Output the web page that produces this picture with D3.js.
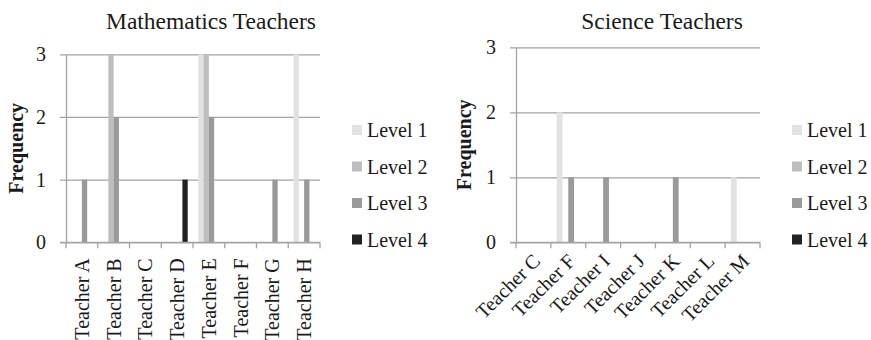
<!DOCTYPE html>
<html>
<head>
<meta charset="utf-8">
<script src="https://cdn.jsdelivr.net/npm/d3@7"></script>
<style>
  html, body { margin: 0; padding: 0; background: #fff; }
  svg { display: block; }
  text { font-family: "Liberation Serif", "Times New Roman", serif; fill: #1a1a1a; }
</style>
</head>
<body>
<svg id="chart" width="871" height="340"></svg>
<script>
// ---- data ----
const levels = ["Level 1", "Level 2", "Level 3", "Level 4"];
const levelColors = ["#e2e2e2", "#bebebe", "#9a9a9a", "#222222"];
const yTicks = [0, 1, 2, 3];

const mathTitle = "Mathematics Teachers";
const mathCategories = ["Teacher A", "Teacher B", "Teacher C", "Teacher D", "Teacher E", "Teacher F", "Teacher G", "Teacher H"];
const mathLevel1 = [0, 0, 0, 0, 3, 0, 0, 3];
const mathLevel2 = [0, 3, 0, 0, 3, 0, 0, 0];
const mathLevel3 = [1, 2, 0, 0, 2, 0, 1, 1];
const mathLevel4 = [0, 0, 0, 1, 0, 0, 0, 0];

const sciTitle = "Science Teachers";
const sciCategories = ["Teacher C", "Teacher F", "Teacher I", "Teacher J", "Teacher K", "Teacher L", "Teacher M"];
const sciLevel1 = [0, 2, 0, 0, 0, 0, 1];
const sciLevel2 = [0, 0, 0, 0, 0, 0, 0];
const sciLevel3 = [0, 1, 1, 0, 1, 0, 0];
const sciLevel4 = [0, 0, 0, 0, 0, 0, 0];

const svg = d3.select("#chart");
const gridColor = "#a3a3a3";
const serif = '"Liberation Serif", "Times New Roman", serif';

function drawChart(cfg) {
  const { title, categories, series, left, right, top, bottom, titleX, legendX, labelMode, yLabelX } = cfg;
  const g = svg.append("g");
  const x0 = d3.scaleBand().domain(categories).range([left, right]).paddingInner(0).paddingOuter(0);
  const x1 = d3.scaleBand().domain(levels).range([0, x0.bandwidth()]).paddingInner(0).paddingOuter(1);
  const y = d3.scaleLinear().domain([0, 3]).range([bottom, top]);

  // gridlines + y axis
  const yAxis = d3.axisLeft(y).tickValues(yTicks).tickFormat(d3.format("d"))
    .tickSizeInner(-(right - left)).tickSizeOuter(0).tickPadding(20);
  const ya = g.append("g").attr("transform", `translate(${left},0)`).call(yAxis)
    .attr("font-family", serif);
  ya.select(".domain").attr("stroke", gridColor).attr("stroke-width", 1.3);
  ya.selectAll(".tick line").attr("stroke", gridColor).attr("stroke-width", 1.3).attr("x1", -6);
  ya.selectAll(".tick text").style("font-size", "20px").attr("fill", "#1a1a1a")
    .style("font-family", serif);

  // bars
  series.forEach((vals, si) => {
    g.append("g").selectAll("rect")
      .data(categories.map((c, i) => ({ c, v: vals[i] })).filter(d => d.v > 0))
      .join("rect")
      .attr("x", d => x0(d.c) + x1(levels[si]))
      .attr("width", x1.bandwidth())
      .attr("y", d => y(d.v))
      .attr("height", d => y(0) - y(d.v))
      .attr("fill", levelColors[si]);
  });

  // x axis line + boundary ticks
  const xa = g.append("g");
  xa.append("line").attr("x1", left - 6).attr("x2", right).attr("y1", y(0)).attr("y2", y(0))
    .attr("stroke", gridColor).attr("stroke-width", 1.3);
  const bounds = categories.map(c => x0(c)).concat([x0.range()[1]]);
  xa.selectAll("line.bt").data(bounds).join("line").attr("class", "bt")
    .attr("x1", d => d).attr("x2", d => d).attr("y1", y(0)).attr("y2", y(0) + 6)
    .attr("stroke", gridColor).attr("stroke-width", 1.3);

  // category labels
  const labels = xa.selectAll("text.cat").data(categories).join("text").attr("class", "cat")
    .text(d => d).style("font-size", "20px").attr("text-anchor", "end");
  if (labelMode === "vertical") {
    labels.attr("transform", d => `translate(${x0(d) + x0.bandwidth() / 2 + 7},${y(0) + 16}) rotate(-90)`);
  } else {
    labels.attr("transform", d => `translate(${x0(d) + x0.bandwidth() / 2 + 8},${y(0) + 20}) rotate(-45)`);
  }

  // y label
  g.append("text").text("Frequency")
    .attr("transform", `translate(${yLabelX},${(top + bottom) / 2}) rotate(-90)`)
    .attr("text-anchor", "middle").style("font-size", "20px").style("font-weight", "bold");

  // title
  g.append("text").text(title).attr("x", titleX).attr("y", 29)
    .attr("text-anchor", "middle").style("font-size", "23.5px");

  // legend
  const lg = g.append("g").selectAll("g").data(levels).join("g")
    .attr("transform", (d, i) => `translate(${legendX},${130 + i * 36.5})`);
  lg.append("rect").attr("x", -15).attr("y", -5).attr("width", 10).attr("height", 10)
    .attr("fill", (d, i) => levelColors[i]);
  lg.append("text").text(d => d).attr("x", 0).attr("dy", "0.35em").style("font-size", "20px");
}

drawChart({
  title: mathTitle, categories: mathCategories,
  series: [mathLevel1, mathLevel2, mathLevel3, mathLevel4],
  left: 66, right: 320, top: 54.3, bottom: 242.3,
  titleX: 211, legendX: 367, labelMode: "vertical", yLabelX: 23
});
drawChart({
  title: sciTitle, categories: sciCategories,
  series: [sciLevel1, sciLevel2, sciLevel3, sciLevel4],
  left: 516, right: 760, top: 47.3, bottom: 242.3,
  titleX: 662, legendX: 807, labelMode: "diag", yLabelX: 471
});
</script>
</body>
</html>
